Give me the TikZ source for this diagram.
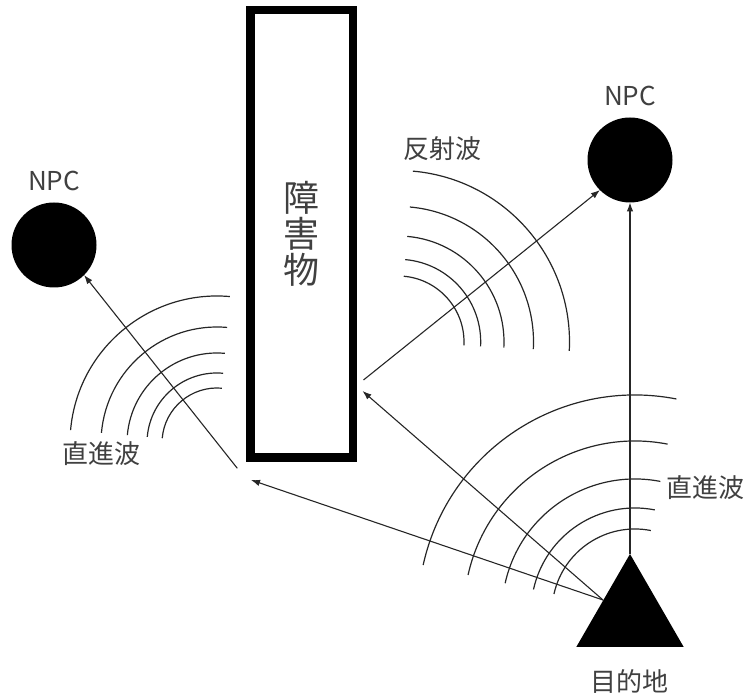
\documentclass[tikz,border=0pt]{standalone}
\usepackage{fontspec}
\setmainfont{Noto Sans CJK JP}
\usetikzlibrary{arrows.meta,shapes.geometric}
\begin{document}
\begin{tikzpicture}[x=1pt,y=1pt,
  wave/.style={line width=1.2pt, draw=black!85},
  ray/.style={line width=1.1pt, draw=black!85, -{Latex[length=9pt,width=6.5pt]}},
  lbl/.style={font=\fontsize{26}{26}\selectfont, text=black!75, inner sep=0pt},
  npc/.style={circle, fill=black, minimum size=85pt, inner sep=0pt, outer sep=0pt},
  obstbox/.style={draw=black, line width=8.5pt, fill=white, minimum width=102.5pt, minimum height=447.5pt,
    inner sep=0pt, font=\fontsize{36}{36}\selectfont, text=black!75, align=center},
  goal/.style={regular polygon, regular polygon sides=3, fill=black, minimum size=124pt, inner sep=0pt, outer sep=0pt}
]
\useasboundingbox (0,0) rectangle (748,695);

% waves
\foreach \r in {147,116,90,70,55}
  \draw[wave] (217,252) ++(85:\r pt) arc[start angle=85, end angle=175, radius=\r pt];
\foreach \r in {171.5,135.5,106,82.7,66}
  \draw[wave] (398,353) ++(-3:\r pt) arc[start angle=-3, end angle=85, radius=\r pt];
\foreach \r in {217,171,133,104,83}
  \draw[wave] (635,83) ++(79:\r pt) arc[start angle=79, end angle=167.5, radius=\r pt];

% obstacle
\node[obstbox] (obst) at (301.5,461) {障\\害\\物};

% NPCs
\node[npc] (npcL) at (54,450) {};
\node[npc] (npcR) at (630,535) {};
\node[lbl] (npcLlbl) at (54,514) {NPC};
\node[lbl] (npcRlbl) at (630,599) {NPC};

% goal
\node[goal] (tri) at (630,79) {};
\node[lbl] (goallbl) at (629.5,14) {目的地};

% labels
\node[lbl] (refl) at (442.5,546.5) {反射波};
\node[lbl] (dirL) at (101.5,241) {直進波};
\node[lbl] (dirR) at (705,207.5) {直進波};

% connector points
\coordinate (src) at (603,95);
\coordinate (hitR) at (362.5,304);
\coordinate (hitL) at (251,215);
\coordinate (reflS) at (363.5,315);
\coordinate (leftS) at (237.3,226.7);

% rays
\draw[ray] (tri.corner 1) -- (npcR);
\draw[ray] (src) -- (hitR);
\draw[ray] (src) -- (hitL);
\draw[ray] (reflS) -- (npcR.225);
\draw[ray] (leftS) -- (npcL.315);
\end{tikzpicture}
\end{document}
